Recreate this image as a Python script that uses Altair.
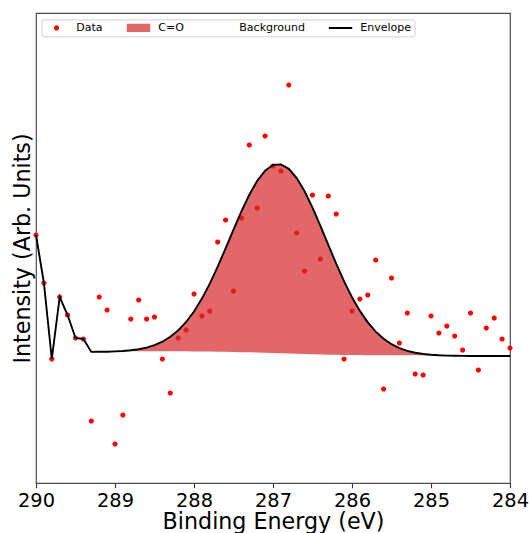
import altair as alt
import pandas as pd

# Binding energy (eV), one sample every 0.1 eV
energy = [
    290.0, 289.9, 289.8, 289.7, 289.6, 289.5, 289.4, 289.3, 289.2, 289.1,
    289.0, 288.9, 288.8, 288.7, 288.6, 288.5, 288.4, 288.3, 288.2, 288.1,
    288.0, 287.9, 287.8, 287.7, 287.6, 287.5, 287.4, 287.3, 287.2, 287.1,
    287.0, 286.9, 286.8, 286.7, 286.6, 286.5, 286.4, 286.3, 286.2, 286.1,
    286.0, 285.9, 285.8, 285.7, 285.6, 285.5, 285.4, 285.3, 285.2, 285.1,
    285.0, 284.9, 284.8, 284.7, 284.6, 284.5, 284.4, 284.3, 284.2, 284.1,
    284.0,
]

# Measured intensity (arb. units)
intensity = [
    248, 200, 124, 186, 168, 145, 144, 62, 186, 173,
    39, 68, 164, 183, 164, 166, 124, 90, 145, 153,
    189, 167, 172, 241, 263, 192, 265, 338, 275, 347,
    317, 312, 398, 250, 212, 288, 224, 287, 269, 124,
    172, 184, 188, 223, 94, 205, 140, 170, 109, 108,
    167, 150, 157, 147, 133, 170, 113, 155, 165, 144,
    135,
]

# Background (Shirley-type) under the fit
background = [
    248, 200, 124, 186, 168, 145, 144, 131.0, 131.0, 131.0,
    131.0, 131.0, 131.0, 131.0, 131.0, 131.0, 131.0, 131.0, 130.9, 130.9,
    130.8, 130.8, 130.7, 130.6, 130.5, 130.3, 130.1, 129.9, 129.7, 129.4,
    129.2, 128.9, 128.7, 128.4, 128.2, 128.0, 127.8, 127.6, 127.5, 127.3,
    127.3, 127.2, 127.1, 127.1, 127.1, 127.0, 127.0, 127.0, 127.0, 127.0,
    127.0, 127.0, 127.0, 127.0, 127.0, 127.0, 127.0, 127.0, 127.0, 127.0,
    127.0,
]

# C=O component (above background)
coo = [
    0, 0, 0, 0, 0, 0, 0, 0.1, 0.2, 0.3,
    0.6, 1.0, 1.7, 2.8, 4.4, 6.9, 10.3, 15.2, 21.7, 30.1,
    40.7, 53.6, 68.7, 85.7, 104.1, 123.0, 141.5, 158.3, 172.5, 183.0,
    188.9, 189.7, 185.5, 176.5, 163.5, 147.4, 129.4, 110.5, 91.9, 74.3,
    58.5, 44.9, 33.5, 24.3, 17.2, 11.8, 7.9, 5.2, 3.3, 2.0,
    1.2, 0.7, 0.4, 0.2, 0.1, 0, 0, 0, 0, 0,
    0,
]

x_ticks = [290, 289, 288, 287, 286, 285, 284]

series_names = ["Data", "C=O", "Background", "Envelope"]
series_colors = ["#ff0000", "#e26868", "rgba(0,0,0,0)", "#000000"]
series_shapes = [
    "M-0.22,0A0.22,0.22,0,1,1,0.22,0A0.22,0.22,0,1,1,-0.22,0Z",
    "M-1,-0.35L1,-0.35L1,0.35L-1,0.35Z",
    "M-1,-0.35L1,-0.35L1,0.35L-1,0.35Z",
    "M-1,-0.085L1,-0.085L1,0.085L-1,0.085Z",
]

df = pd.DataFrame({
    "energy": energy,
    "intensity": intensity,
    "background": background,
    "coo": coo,
})
df["envelope"] = df["background"] + df["coo"]
df["series"] = "Data"

FONT = "DejaVu Sans"

x_enc = alt.X(
    "energy:Q",
    scale=alt.Scale(domain=[290, 284], nice=False, zero=False),
    axis=alt.Axis(
        values=x_ticks, format="d", title="Binding Energy (eV)",
        labelFlush=False, labelOverlap=False, labelBound=False,
        titleX=237, titleY=45.8, titleBaseline="alphabetic", titleAlign="center",
    ),
)
y_scale = alt.Scale(domain=[0, 470], nice=False, zero=False)
y_axis = alt.Axis(
    title="Intensity (Arb. Units)", labels=False, ticks=False, domain=False,
    grid=False, titleX=-7, titleY=235, titleAngle=-90,
    titleBaseline="alphabetic", titleAlign="center",
)

legend = alt.Legend(
    title=None, orient="none", legendX=5.5, legendY=6.4,
    direction="horizontal", columns=4, symbolSize=552, symbolStrokeWidth=0,
    symbolOpacity=1, labelFont=FONT, labelFontSize=11, labelColor="black",
    labelOffset=7.8, columnPadding=23, padding=3, clipHeight=11,
    fillColor="rgba(255,255,255,0.8)", strokeColor="#d0d0d0", cornerRadius=2,
)

base = alt.Chart(df)

points = base.mark_point(filled=True, opacity=1, size=552, strokeWidth=0).encode(
    x=x_enc,
    y=alt.Y("intensity:Q", scale=y_scale, axis=y_axis),
    color=alt.Color("series:N", scale=alt.Scale(domain=series_names, range=series_colors), legend=legend),
    shape=alt.Shape("series:N", scale=alt.Scale(domain=series_names, range=series_shapes), legend=legend),
)

area = base.mark_area(color="#d62728", opacity=0.7).encode(
    x=x_enc,
    y=alt.Y("background:Q", scale=y_scale, axis=y_axis),
    y2="envelope:Q",
)

bg_line = base.mark_line(color="white", strokeWidth=1.5).encode(
    x=x_enc,
    y=alt.Y("background:Q", scale=y_scale, axis=y_axis),
)

env_line = base.mark_line(color="black", strokeWidth=1.9).encode(
    x=x_enc,
    y=alt.Y("envelope:Q", scale=y_scale, axis=y_axis),
)

chart = alt.layer(points, area, bg_line, env_line).properties(
    width=474, height=470,
    autosize=alt.AutoSizeParams(type="none"),
    padding={"left": 36, "top": 13, "right": 19, "bottom": 50},
).configure_view(
    stroke="#4d4d4d", strokeWidth=1.2,
).configure_axis(
    labelFont=FONT, labelFontSize=19.4, labelColor="black",
    titleFont=FONT, titleFontSize=22.2, titleFontWeight="normal", titleColor="black",
    tickColor="#333333", tickSize=4.7, tickWidth=1.1, labelPadding=4,
    domain=False, grid=False,
)

chart.save("out.html", embed_options={"renderer": "svg", "actions": False})
